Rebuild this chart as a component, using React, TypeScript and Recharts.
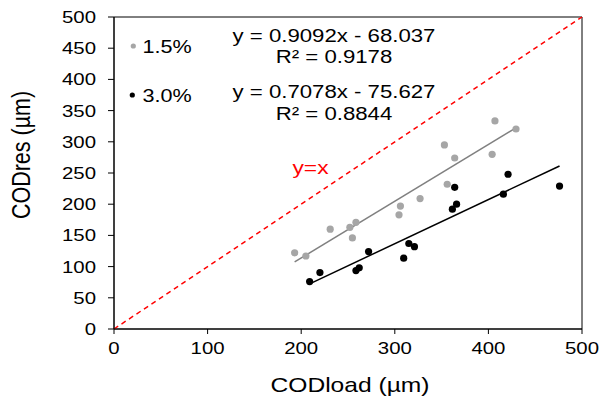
import {
  ScatterChart,
  Scatter,
  XAxis,
  YAxis,
  ReferenceLine,
  ReferenceArea,
} from "recharts";

// values
const load15 = [193, 205, 231, 252, 258.5, 254.7, 306, 304.5, 327, 353, 364, 356, 407, 404, 429.5];
const res15 = [122, 117, 160, 163, 171, 146, 197, 183, 209, 295, 274, 232, 333.5, 280, 320.5];
const load30 = [209, 220, 258.5, 262, 272, 309.5, 315, 321, 364, 366, 361.5, 416, 421, 476];
const res30 = [76, 90.5, 93.7, 98, 124, 113.5, 137, 132, 227, 200, 192, 216, 248, 229];

const fit15 = { slope: 0.9092, intercept: -68.037, r2: "0.9178" };
const fit30 = { slope: 0.7078, intercept: -75.627, r2: "0.8844" };

const xTicks = [0, 100, 200, 300, 400, 500];
const yTicks = [0, 50, 100, 150, 200, 250, 300, 350, 400, 450, 500];

const toPoints = (xs: number[], ys: number[]) => xs.map((x, i) => ({ x, y: ys[i] }));

const trend = (xs: number[], fit: { slope: number; intercept: number }) => {
  const lo = Math.min(...xs);
  const hi = Math.max(...xs);
  return [lo, hi].map((x) => ({ x, y: fit.slope * x + fit.intercept }));
};

const fmtFit = (fit: { slope: number; intercept: number }) =>
  `y = ${fit.slope.toFixed(4)}x - ${Math.abs(fit.intercept).toFixed(3)}`;

const FONT = "'Liberation Sans', Arial, sans-serif";
const SX = 1.2; // reference text is stretched horizontally

function SText({
  x,
  y,
  size,
  anchor = "middle",
  fill = "#000",
  rotate = 0,
  children,
}: {
  x: number;
  y: number;
  size: number;
  anchor?: "start" | "middle" | "end";
  fill?: string;
  rotate?: number;
  children: React.ReactNode;
}) {
  return (
    <text
      transform={`translate(${x},${y}) scale(${SX},1)${rotate ? ` rotate(${rotate})` : ""}`}
      textAnchor={anchor}
      fontSize={size}
      fontFamily={FONT}
      fill={fill}
    >
      {children}
    </text>
  );
}

const XTick = (props: any) => {
  const { x, y, payload } = props;
  return (
    <SText x={x} y={y + 18} size={17}>
      {payload.value}
    </SText>
  );
};

const YTick = (props: any) => {
  const { x, y, payload } = props;
  return (
    <SText x={x} y={y + 6} size={17} anchor="end">
      {payload.value}
    </SText>
  );
};

const W = 601;
const H = 398;

export default function App() {
  return (
    <div style={{ position: "absolute", left: 0, top: 0, width: W, height: H, background: "#fff" }}>
      <ScatterChart
        width={W}
        height={H}
        margin={{ top: 17, right: 19, bottom: 39, left: 54 }}
      >
        <XAxis
          type="number"
          dataKey="x"
          domain={[0, 500]}
          ticks={xTicks}
          height={30}
          tickSize={5}
          tickMargin={2}
          stroke="#000"
          tick={<XTick />}
          allowDataOverflow
        />
        <YAxis
          type="number"
          dataKey="y"
          domain={[0, 500]}
          ticks={yTicks}
          width={60}
          tickSize={6}
          tickMargin={12}
          stroke="#000"
          tick={<YTick />}
          allowDataOverflow
        />
        <ReferenceArea x1={0} x2={500} y1={0} y2={500} fill="none" stroke="#000" strokeWidth={1} />
        <ReferenceLine
          segment={[
            { x: 0, y: 0 },
            { x: 500, y: 500 },
          ]}
          stroke="#ff0000"
          strokeWidth={1.5}
          strokeDasharray="5 4"
        />
        <Scatter
          data={trend(load15, fit15)}
          line={{ stroke: "#808080", strokeWidth: 1.5 }}
          lineType="joint"
          shape={() => <g />}
          isAnimationActive={false}
        />
        <Scatter
          data={trend(load30, fit30)}
          line={{ stroke: "#000", strokeWidth: 1.5 }}
          lineType="joint"
          shape={() => <g />}
          isAnimationActive={false}
        />
        <Scatter
          data={toPoints(load15, res15)}
          fill="#a6a6a6"
          shape={(p: any) => <circle cx={p.cx} cy={p.cy} r={3.6} fill="#a6a6a6" />}
          isAnimationActive={false}
        />
        <Scatter
          data={toPoints(load30, res30)}
          fill="#000"
          shape={(p: any) => <circle cx={p.cx} cy={p.cy} r={3.6} fill="#000" />}
          isAnimationActive={false}
        />
      </ScatterChart>

      <svg
        width={W}
        height={H}
        style={{ position: "absolute", left: 0, top: 0, pointerEvents: "none" }}
      >
        {/* axis titles */}
        <SText x={350} y={391.5} size={20.5}>
          CODload (µm)
        </SText>
        <SText x={29.5} y={155} size={21.5} rotate={-90}>
          CODres (µm)
        </SText>

        {/* legend */}
        <circle cx={133.3} cy={46} r={2.6} fill="#a6a6a6" />
        <SText x={142.5} y={53} size={18} anchor="start">
          1.5%
        </SText>
        <circle cx={132.3} cy={95} r={2.6} fill="#000" />
        <SText x={142.5} y={101.5} size={18} anchor="start">
          3.0%
        </SText>

        {/* regression labels */}
        <SText x={334} y={41.7} size={18.5}>
          {fmtFit(fit15)}
        </SText>
        <SText x={334} y={63.3} size={18.5}>
          {`R² = ${fit15.r2}`}
        </SText>
        <SText x={334} y={98.3} size={18.5}>
          {fmtFit(fit30)}
        </SText>
        <SText x={334} y={120} size={18.5}>
          {`R² = ${fit30.r2}`}
        </SText>

        <SText x={310.5} y={174} size={19} fill="#ff0000">
          y=x
        </SText>
      </svg>
    </div>
  );
}
